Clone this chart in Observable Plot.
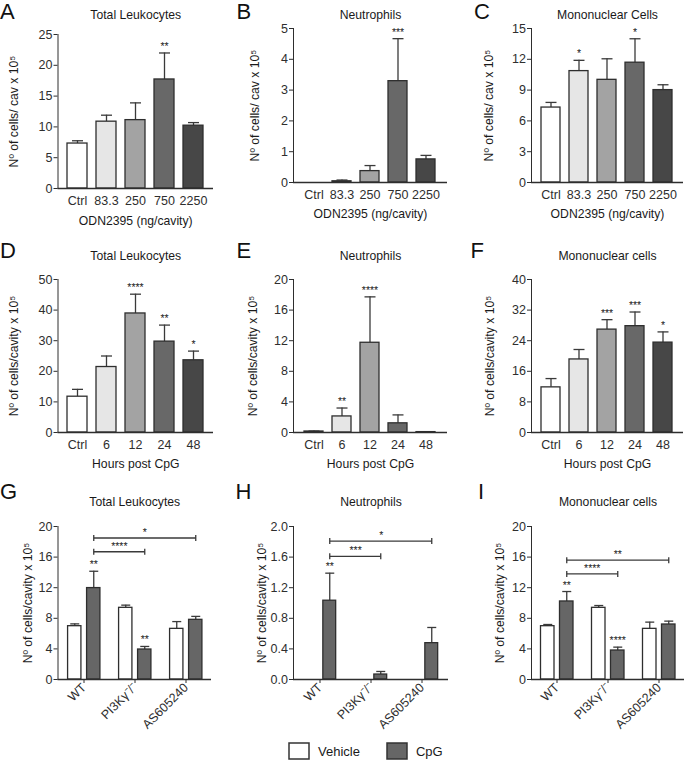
<!DOCTYPE html>
<html>
<head>
<meta charset="utf-8">
<script src="https://cdn.jsdelivr.net/npm/d3@7"></script>
<script src="https://cdn.jsdelivr.net/npm/@observablehq/plot@0.6"></script>
<style>
  body { margin: 0; background: #fff; }
  #fig { position: relative; width: 685px; height: 760px; background: #fff; overflow: hidden; font-family: 'Liberation Sans', Arial, Helvetica, sans-serif; }
  .letter { position: absolute; font-size: 22px; line-height: 22px; color: #111; }
  #legend > div { min-height: 16px !important; margin: 0 !important; }
  #legend span { margin-right: 27px !important; }
  #legend svg { margin-right: 9px !important; overflow: visible !important; }
  #legend rect { stroke: #333; stroke-width: 1.5px; }
</style>
</head>
<body>
<div id="fig"></div>
<script>
// ---------- data ----------
const doseCats = ["Ctrl", "83.3", "250", "750", "2250"];
const hourCats = ["Ctrl", "6", "12", "24", "48"];
const stepFills = ["#ffffff", "#e6e6e6", "#a3a3a3", "#686868", "#474747"];

// A: total leukocytes vs dose
const aMean = [7.3, 10.85, 11.1, 17.7, 10.2];
const aSem = [0.45, 1.05, 2.8, 4.3, 0.5];
const aStars = ["", "", "", "**", ""];
const aTicks = [0, 5, 10, 15, 20, 25];
// B: neutrophils vs dose
const bMean = [0, 0.04, 0.37, 3.29, 0.75];
const bSem = [0, 0.04, 0.18, 1.38, 0.13];
const bStars = ["", "", "", "***", ""];
const bTicks = [0, 1, 2, 3, 4, 5];
// C: mononuclear vs dose
const cMean = [7.3, 10.85, 10.0, 11.67, 9.0];
const cSem = [0.5, 1.05, 2.05, 2.33, 0.52];
const cStars = ["", "*", "", "*", ""];
const cTicks = [0, 3, 6, 9, 12, 15];
// D: total leukocytes vs hours
const dMean = [11.7, 21.4, 38.9, 29.7, 23.6];
const dSem = [2.4, 3.6, 6.3, 5.4, 3.0];
const dStars = ["", "", "****", "**", "*"];
const dTicks = [0, 10, 20, 30, 40, 50];
// E: neutrophils vs hours
const eMean = [0.13, 2.1, 11.73, 1.2, 0.05];
const eSem = [0.05, 1.1, 6.0, 1.1, 0];
const eStars = ["", "**", "****", "", ""];
const eTicks = [0, 4, 8, 12, 16, 20];
// F: mononuclear vs hours
const fMean = [11.8, 19.1, 26.9, 27.8, 23.5];
const fSem = [2.3, 2.6, 2.6, 3.7, 2.8];
const fStars = ["", "", "***", "***", "*"];
const fTicks = [0, 8, 16, 24, 32, 40];

// G-I: genotype / inhibitor groups
const groups = ["WT", "PI3Kγ⁻/⁻", "AS605240"];
const treatments = ["Vehicle", "CpG"];
const trtFills = ["#ffffff", "#666666"];

const gVeh = [6.97, 9.37, 6.62], gVehSem = [0.3, 0.35, 0.95];
const gCpg = [11.95, 3.92, 7.8], gCpgSem = [2.2, 0.4, 0.45];
const gStars = ["**", "**", ""];
const gBrackets = [{from: "WT", to: "PI3Kγ⁻/⁻", y: 16.7, star: "****"}, {from: "WT", to: "AS605240", y: 18.5, star: "*"}];
const gTicks = [0, 4, 8, 12, 16, 20];

const hVeh = [0, 0, 0], hVehSem = [0, 0, 0];
const hCpg = [1.03, 0.065, 0.475], hCpgSem = [0.36, 0.04, 0.205];
const hStars = ["**", "", ""];
const hBrackets = [{from: "WT", to: "PI3Kγ⁻/⁻", y: 1.61, star: "***"}, {from: "WT", to: "AS605240", y: 1.81, star: "*"}];
const hTicks = [0, 0.4, 0.8, 1.2, 1.6, 2.0];

const iVeh = [6.97, 9.37, 6.62], iVehSem = [0.22, 0.3, 0.88];
const iCpg = [10.2, 3.79, 7.19], iCpgSem = [1.3, 0.44, 0.44];
const iStars = ["**", "****", ""];
const iBrackets = [{from: "WT", to: "PI3Kγ⁻/⁻", y: 13.8, star: "****"}, {from: "WT", to: "AS605240", y: 15.6, star: "**"}];
const iTicks = [0, 4, 8, 12, 16, 20];

// ---------- drawing ----------
const FONT = "'Liberation Sans', Arial, Helvetica, sans-serif";
const INK = "#1a1a1a";
const LINE = "#2e2e2e";
const fig = document.getElementById("fig");
const lineSym = (horizontal) => ({
  draw(ctx, size) {
    const r = Math.sqrt(size / Math.PI);
    if (horizontal) { ctx.moveTo(-r, 0); ctx.lineTo(r, 0); }
    else { ctx.moveTo(0, -r); ctx.lineTo(0, r); }
  }
});
const hCap = lineSym(true), vTick = lineSym(false);

function place(el, left, top) {
  el.style.position = "absolute";
  el.style.left = left + "px";
  el.style.top = top + "px";
  fig.append(el);
}

function commonText(p, g) {
  return [
    Plot.text([p.title], {text: d => d, frameAnchor: "top", textAnchor: "middle", lineAnchor: "middle", dy: g.titleDy, fontSize: 12.2, fill: INK}),
    Plot.text([p.ylabel], {text: d => d, frameAnchor: "left", textAnchor: "middle", lineAnchor: "middle", rotate: -90, dx: g.ylabDx, fontSize: 12.2, fill: INK})
  ];
}

const plotStyle = {fontFamily: FONT, fontSize: "12.5px", color: LINE, background: "none", overflow: "visible"};

function barPanel(p, g) {
  const data = p.cats.map((c, i) => ({cat: c, mean: p.mean[i], sem: p.sem[i], star: p.stars[i]}));
  const withErr = data.filter(d => d.sem > 0);
  const svg = Plot.plot({
    width: g.w, height: g.h,
    marginLeft: g.ml, marginRight: g.mr, marginTop: g.mt, marginBottom: g.mb,
    style: plotStyle,
    x: {domain: p.cats, padding: 0.32, tickSize: 0, tickPadding: 8, label: null},
    y: {domain: [p.ticks[0], p.ticks[p.ticks.length - 1]], ticks: p.ticks, tickFormat: p.fmt, tickSize: 4, tickPadding: 1.5, label: null, line: true},
    color: {domain: p.cats, range: stepFills},
    marks: [
      Plot.ruleX(withErr, {x: "cat", y1: "mean", y2: d => d.mean + d.sem, stroke: "#3a3a3a", strokeWidth: 1.3}),
      Plot.dot(withErr, {x: "cat", y: d => d.mean + d.sem, symbol: hCap, r: 5.5, fill: "none", stroke: "#3a3a3a", strokeWidth: 1.3}),
      Plot.barY(data, {x: "cat", y: "mean", fill: "cat", stroke: LINE, strokeWidth: 1.3}),
      Plot.ruleY([p.ticks[0]], {stroke: LINE, strokeWidth: 1.3}),
      Plot.text(data.filter(d => d.star), {x: "cat", y: d => d.mean + d.sem, text: "star", lineAnchor: "bottom", dy: -3, fontSize: 10.5, fill: INK}),
      ...commonText(p, g),
      Plot.text([p.xlabel], {text: d => d, frameAnchor: "bottom", textAnchor: "middle", lineAnchor: "middle", dy: g.xlabDy, fontSize: 12.2, fill: INK})
    ]
  });
  place(svg, g.left, g.top);
}

function groupPanel(p, g) {
  const bw = (g.w - g.ml - g.mr) / groups.length;
  const off = {Vehicle: -9.25, CpG: 9.75};
  const half = 6.75;
  const data = [];
  groups.forEach((grp, i) => {
    data.push({group: grp, trt: "Vehicle", mean: p.veh[i], sem: p.vehSem[i], star: ""});
    data.push({group: grp, trt: "CpG", mean: p.cpg[i], sem: p.cpgSem[i], star: p.stars[i]});
  });
  const marks = [];
  for (const trt of treatments) {
    const sub = data.filter(d => d.trt === trt);
    const withErr = sub.filter(d => d.sem > 0);
    marks.push(
      Plot.ruleX(withErr, {x: "group", y1: "mean", y2: d => d.mean + d.sem, dx: off[trt], stroke: "#3a3a3a", strokeWidth: 1.3}),
      Plot.dot(withErr, {x: "group", y: d => d.mean + d.sem, dx: off[trt], symbol: hCap, r: 4.5, fill: "none", stroke: "#3a3a3a", strokeWidth: 1.3}),
      Plot.barY(sub, {x: "group", y: "mean", fill: "trt", stroke: LINE, strokeWidth: 1.3,
        insetLeft: bw / 2 + off[trt] - half, insetRight: bw / 2 - off[trt] - half}),
      Plot.text(sub.filter(d => d.star), {x: "group", y: d => d.mean + d.sem, text: "star", dx: off[trt], lineAnchor: "bottom", dy: -3, fontSize: 10.5, fill: INK})
    );
  }
  const ends = p.brackets.flatMap(b => [{g: b.from, y: b.y}, {g: b.to, y: b.y}]);
  marks.push(
    Plot.link(p.brackets, {x1: "from", x2: "to", y1: "y", y2: "y", dx: off.CpG, stroke: "#3a3a3a", strokeWidth: 1.3}),
    Plot.dot(ends, {x: "g", y: "y", dx: off.CpG, symbol: vTick, r: 3, fill: "none", stroke: "#3a3a3a", strokeWidth: 1.3}),
    ...p.brackets.map(b => Plot.text([b], {x: "from", y: "y", text: "star",
      dx: off.CpG + bw * (groups.indexOf(b.to) - groups.indexOf(b.from)) / 2,
      lineAnchor: "bottom", dy: -2, fontSize: 10.5, fill: INK})),
    Plot.ruleY([p.ticks[0]], {stroke: LINE, strokeWidth: 1.3}),
    ...commonText(p, g)
  );
  const svg = Plot.plot({
    width: g.w, height: g.h,
    marginLeft: g.ml, marginRight: g.mr, marginTop: g.mt, marginBottom: g.mb,
    style: plotStyle,
    x: {domain: groups, padding: 0, tickSize: 4, tickPadding: 2, tickRotate: -45, label: null},
    y: {domain: [p.ticks[0], p.ticks[p.ticks.length - 1]], ticks: p.ticks, tickFormat: p.fmt, tickSize: 4, tickPadding: 1.5, label: null, line: true},
    color: {domain: treatments, range: trtFills},
    marks
  });
  place(svg, g.left, g.top);
}

const int = d3.format("d");
const ylab1 = "Nº of cells/ cav x 10⁵";
const ylab2 = "Nº of cells/cavity x 10⁵";

barPanel({cats: doseCats, mean: aMean, sem: aSem, stars: aStars, ticks: aTicks, fmt: int, title: "Total Leukocytes", ylabel: ylab1, xlabel: "ODN2395 (ng/cavity)"},
  {left: 0, top: 0, w: 225, h: 240, ml: 57.5, mr: 12, mt: 34, mb: 52, titleDy: -19, ylabDx: -43.5, xlabDy: 33});
barPanel({cats: doseCats, mean: bMean, sem: bSem, stars: bStars, ticks: bTicks, fmt: int, title: "Neutrophils", ylabel: ylab1, xlabel: "ODN2395 (ng/cavity)"},
  {left: 225, top: 0, w: 230, h: 240, ml: 68, mr: 8, mt: 28, mb: 58, titleDy: -13, ylabDx: -38, xlabDy: 32});
barPanel({cats: doseCats, mean: cMean, sem: cSem, stars: cStars, ticks: cTicks, fmt: int, title: "Mononuclear Cells", ylabel: ylab1, xlabel: "ODN2395 (ng/cavity)"},
  {left: 455, top: 0, w: 230, h: 240, ml: 76, mr: 2, mt: 28, mb: 58, titleDy: -13, ylabDx: -42, xlabDy: 32});

barPanel({cats: hourCats, mean: dMean, sem: dSem, stars: dStars, ticks: dTicks, fmt: int, title: "Total Leukocytes", ylabel: ylab2, xlabel: "Hours post CpG"},
  {left: 0, top: 240, w: 225, h: 240, ml: 57.5, mr: 12, mt: 39, mb: 48, titleDy: -23.5, ylabDx: -43.5, xlabDy: 31.5});
barPanel({cats: hourCats, mean: eMean, sem: eSem, stars: eStars, ticks: eTicks, fmt: int, title: "Neutrophils", ylabel: ylab2, xlabel: "Hours post CpG"},
  {left: 225, top: 240, w: 230, h: 240, ml: 68, mr: 8, mt: 39, mb: 48, titleDy: -23.5, ylabDx: -40, xlabDy: 31.5});
barPanel({cats: hourCats, mean: fMean, sem: fSem, stars: fStars, ticks: fTicks, fmt: int, title: "Mononuclear cells", ylabel: ylab2, xlabel: "Hours post CpG"},
  {left: 455, top: 240, w: 230, h: 240, ml: 76, mr: 2, mt: 39, mb: 48, titleDy: -23.5, ylabDx: -41, xlabDy: 31.5});

groupPanel({veh: gVeh, vehSem: gVehSem, cpg: gCpg, cpgSem: gCpgSem, stars: gStars, brackets: gBrackets, ticks: gTicks, fmt: int, title: "Total Leukocytes", ylabel: ylab2},
  {left: 0, top: 480, w: 225, h: 280, ml: 57.5, mr: 14, mt: 46, mb: 81, titleDy: -24, ylabDx: -29.5});
groupPanel({veh: hVeh, vehSem: hVehSem, cpg: hCpg, cpgSem: hCpgSem, stars: hStars, brackets: hBrackets, ticks: hTicks, fmt: d3.format(".1f"), title: "Neutrophils", ylabel: ylab2},
  {left: 225, top: 480, w: 230, h: 280, ml: 68, mr: 7, mt: 46, mb: 81, titleDy: -24, ylabDx: -31});
groupPanel({veh: iVeh, vehSem: iVehSem, cpg: iCpg, cpgSem: iCpgSem, stars: iStars, brackets: iBrackets, ticks: iTicks, fmt: int, title: "Mononuclear cells", ylabel: ylab2},
  {left: 455, top: 480, w: 230, h: 280, ml: 76, mr: 1, mt: 46, mb: 81, titleDy: -24, ylabDx: -31});

// panel letters
const letters = [
  ["A", 0, 1], ["B", 236.5, 1], ["C", 474, 1],
  ["D", 0, 240], ["E", 236.5, 240], ["F", 470.5, 240],
  ["G", 0, 481], ["H", 235.5, 481], ["I", 478, 481]
];
for (const [t, x, y] of letters) {
  const el = document.createElement("div");
  el.className = "letter";
  el.textContent = t;
  place(el, x, y);
}

// legend
const legWrap = document.createElement("div");
legWrap.id = "legend";
legWrap.append(Plot.legend({
  color: {type: "ordinal", domain: treatments, range: trtFills},
  legend: "swatches", swatchWidth: 20, swatchHeight: 16,
  style: {fontFamily: FONT, fontSize: "13px", color: INK}
}));
place(legWrap, 289, 743);
</script>
</body>
</html>
